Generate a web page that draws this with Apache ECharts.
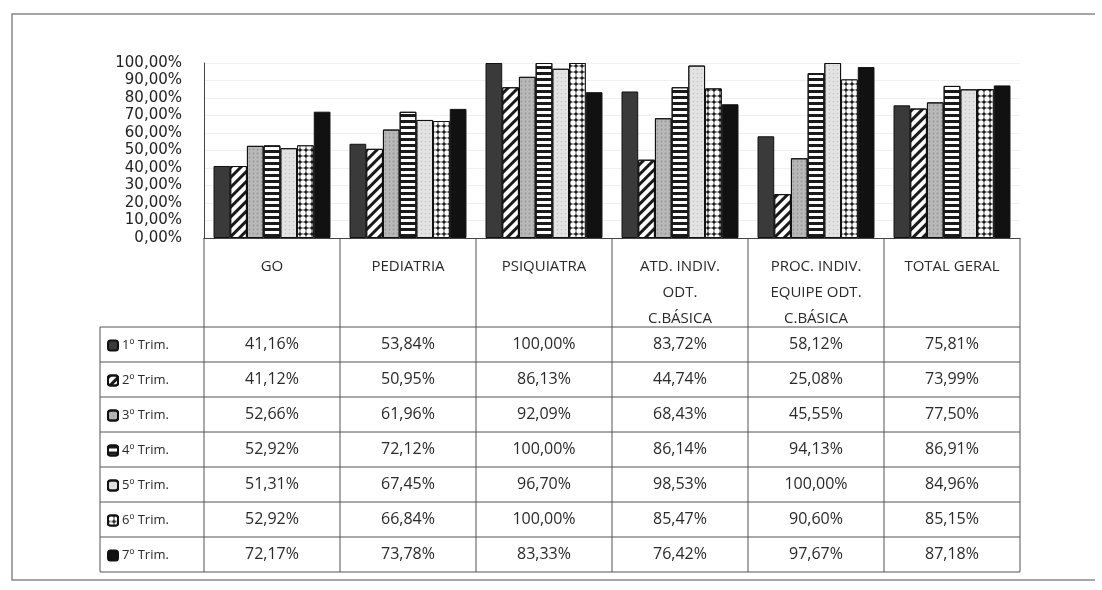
<!DOCTYPE html>
<html>
<head>
<meta charset="utf-8">
<script src="https://cdn.jsdelivr.net/npm/echarts@6/dist/echarts.min.js"></script>
<style>
  html, body { margin: 0; padding: 0; background: #fff; }
  #chart { width: 1102px; height: 590px; }
</style>
</head>
<body>
<div id="chart"></div>
<script>
// categorias (cabeçalho da tabela)
const categories = ['GO', 'PEDIATRIA', 'PSIQUIATRA', 'ATD. INDIV.\nODT.\nC.BÁSICA', 'PROC. INDIV.\nEQUIPE ODT.\nC.BÁSICA', 'TOTAL GERAL']
const trimNames = ['1º Trim.', '2º Trim.', '3º Trim.', '4º Trim.', '5º Trim.', '6º Trim.', '7º Trim.']

const trim1 = [41.16, 53.84, 100.00, 83.72, 58.12, 75.81]
const trim2 = [41.12, 50.95, 86.13, 44.74, 25.08, 73.99]
const trim3 = [52.66, 61.96, 92.09, 68.43, 45.55, 77.50]
const trim4 = [52.92, 72.12, 100.00, 86.14, 94.13, 86.91]
const trim5 = [51.31, 67.45, 96.70, 98.53, 100.00, 84.96]
const trim6 = [52.92, 66.84, 100.00, 85.47, 90.60, 85.15]
const trim7 = [72.17, 73.78, 83.33, 76.42, 97.67, 87.18]
const allTrims = [trim1, trim2, trim3, trim4, trim5, trim6, trim7]

const yTicks = [0, 10, 20, 30, 40, 50, 60, 70, 80, 90, 100]

const fmt = v => v.toFixed(2).replace('.', ',') + '%'

// layout
const gridLeft = 204
const gridRight = 1020
const gridTop = 63
const gridBottom = 238
const colW = (gridRight - gridLeft) / categories.length
const labelColLeft = 100
const rowTop = 327
const rowH = 35
const tableBottom = rowTop + rowH * trimNames.length

// estilos dos padrões de cada trimestre
const styles = [
  { color: '#3a3a3a' },
  { color: '#ffffff', decal: { symbol: 'rect', symbolSize: 1, color: '#1a1a1a', dashArrayX: [1, 0], dashArrayY: [3, 4], rotation: -Math.PI / 4 } },
  { color: '#b8b8b8', decal: { symbol: 'circle', symbolSize: 0.6, color: '#9a9a9a', dashArrayX: [3, 1], dashArrayY: [3, 1] } },
  { color: '#ffffff', decal: { symbol: 'rect', symbolSize: 1, color: '#1a1a1a', dashArrayX: [1, 0], dashArrayY: [3, 3], rotation: 0 } },
  { color: '#e2e2e2', decal: { symbol: 'circle', symbolSize: 0.5, color: '#c4c4c4', dashArrayX: [3, 1], dashArrayY: [3, 1] } },
  { color: '#1e1e1e', decal: { symbol: 'circle', symbolSize: 0.9, color: '#ffffff', dashArrayX: [6, 0], dashArrayY: [6, 0] } },
  { color: '#111111' }
]

const series = allTrims.map((d, i) => ({
  name: trimNames[i],
  type: 'bar',
  data: d,
  barGap: '0%',
  barCategoryGap: '14%',
  itemStyle: Object.assign({ borderColor: '#111', borderWidth: 1 }, styles[i]),
  emphasis: { disabled: true }
}))

// tabela desenhada com graphic
const graphic = []
const lineStyle = { stroke: '#555', lineWidth: 1 }
for (let k = 0; k <= categories.length; k++) {
  const x = gridLeft + colW * k
  graphic.push({ type: 'line', shape: { x1: x, y1: gridBottom, x2: x, y2: tableBottom }, style: lineStyle, silent: true })
}
graphic.push({ type: 'line', shape: { x1: labelColLeft, y1: rowTop, x2: labelColLeft, y2: tableBottom }, style: lineStyle, silent: true })
for (let r = 0; r <= trimNames.length; r++) {
  const y = rowTop + rowH * r
  graphic.push({ type: 'line', shape: { x1: labelColLeft, y1: y, x2: gridRight, y2: y }, style: lineStyle, silent: true })
}
allTrims.forEach((d, r) => {
  d.forEach((v, c) => {
    graphic.push({
      type: 'text',
      x: gridLeft + colW * (c + 0.5),
      y: rowTop + rowH * (r + 0.5),
      silent: true,
      style: { text: fmt(v), align: 'center', verticalAlign: 'middle', font: '16px "Open Sans"', fill: '#2a2a2a' }
    })
  })
})
// moldura externa
graphic.push({ type: 'polyline', shape: { points: [[1095, 14], [12, 14], [12, 580], [1095, 580]] }, style: { stroke: '#888', lineWidth: 1.5, fill: null }, silent: true })

const chart = echarts.init(document.getElementById('chart'))
chart.setOption({
  animation: false,
  backgroundColor: '#fff',
  grid: { left: gridLeft, right: 1102 - gridRight, top: gridTop, bottom: 590 - gridBottom, containLabel: false },
  legend: {
    orient: 'vertical',
    left: labelColLeft + 2,
    top: rowTop + rowH / 2 - 12,
    itemWidth: 10,
    itemHeight: 10,
    itemGap: rowH - 16,
    selectedMode: false,
    data: trimNames,
    textStyle: { fontFamily: 'Open Sans', fontSize: 13, color: '#2a2a2a', lineHeight: 16, padding: [0, 0, 0, -1] }
  },
  xAxis: {
    type: 'category',
    data: categories,
    axisTick: { show: false },
    axisLine: { lineStyle: { color: '#444', width: 1 } },
    axisLabel: { margin: 16, interval: 0, fontFamily: 'Open Sans', fontSize: 15, lineHeight: 26, color: '#2a2a2a', verticalAlign: 'top' }
  },
  yAxis: {
    type: 'value',
    min: yTicks[0],
    max: yTicks[yTicks.length - 1],
    interval: 10,
    axisLine: { show: true, lineStyle: { color: '#444' } },
    axisTick: { show: false },
    splitLine: { lineStyle: { color: '#f0f0f0' } },
    axisLabel: { margin: 22, formatter: v => fmt(v), fontFamily: 'DejaVu Sans', fontSize: 15, color: '#222' }
  },
  graphic: graphic,
  series: series
})
</script>
</body>
</html>
